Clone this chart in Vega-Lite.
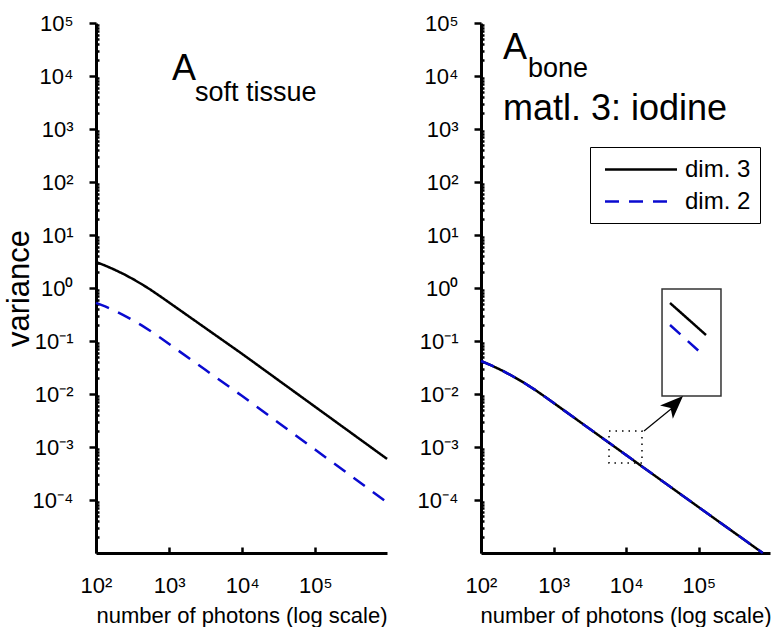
{
  "$schema": "https://vega.github.io/schema/vega-lite/v6.json",
  "background": "white",
  "padding": {"left": 3, "top": 12, "right": 5, "bottom": 3},
  "spacing": 94,
  "bounds": "flush",
  "config": {
    "font": "Liberation Sans",
    "view": {"stroke": null},
    "axis": {
      "domainColor": "black", "domainWidth": 3, "tickColor": "black", "tickWidth": 2.5,
      "labelColor": "black", "titleColor": "black", "labelFontSize": 22, "titleFontSize": 22,
      "titleFontWeight": "normal", "grid": false, "labelFlush": false, "labelOverlap": false
    },
    "text": {"color": "black"}
  },
  "datasets": {
    "soft": [
      {"series": "dim. 3", "n": 100, "v": 3.0903},
      {"series": "dim. 3", "n": 133.35, "v": 2.6503},
      {"series": "dim. 3", "n": 177.83, "v": 2.2294},
      {"series": "dim. 3", "n": 237.14, "v": 1.8395},
      {"series": "dim. 3", "n": 316.23, "v": 1.4891},
      {"series": "dim. 3", "n": 421.70, "v": 1.1819},
      {"series": "dim. 3", "n": 562.34, "v": 0.92024},
      {"series": "dim. 3", "n": 749.89, "v": 0.70293},
      {"series": "dim. 3", "n": 1000, "v": 0.53163},
      {"series": "dim. 3", "n": 3162.3, "v": 0.17400},
      {"series": "dim. 3", "n": 10000, "v": 0.056973},
      {"series": "dim. 3", "n": 31623, "v": 0.018016},
      {"series": "dim. 3", "n": 100000, "v": 0.0056973},
      {"series": "dim. 3", "n": 316228, "v": 0.0018016},
      {"series": "dim. 3", "n": 954993, "v": 0.00059660},
      {"series": "dim. 2", "n": 100, "v": 0.52481},
      {"series": "dim. 2", "n": 133.35, "v": 0.44843},
      {"series": "dim. 2", "n": 177.83, "v": 0.37593},
      {"series": "dim. 2", "n": 237.14, "v": 0.30903},
      {"series": "dim. 2", "n": 316.23, "v": 0.24926},
      {"series": "dim. 2", "n": 421.70, "v": 0.19711},
      {"series": "dim. 2", "n": 562.34, "v": 0.15295},
      {"series": "dim. 2", "n": 749.89, "v": 0.11639},
      {"series": "dim. 2", "n": 1000, "v": 0.087700},
      {"series": "dim. 2", "n": 3162.3, "v": 0.028292},
      {"series": "dim. 2", "n": 10000, "v": 0.0091302},
      {"series": "dim. 2", "n": 31623, "v": 0.0028449},
      {"series": "dim. 2", "n": 100000, "v": 0.00088695},
      {"series": "dim. 2", "n": 316228, "v": 0.00027634},
      {"series": "dim. 2", "n": 954993, "v": 0.000090290}
    ],
    "bone": [
      {"series": "dim. 3", "n": 100, "v": 0.041976},
      {"series": "dim. 3", "n": 141.25, "v": 0.034277},
      {"series": "dim. 3", "n": 199.53, "v": 0.027290},
      {"series": "dim. 3", "n": 281.84, "v": 0.021184},
      {"series": "dim. 3", "n": 398.11, "v": 0.016032},
      {"series": "dim. 3", "n": 562.34, "v": 0.011830},
      {"series": "dim. 3", "n": 794.33, "v": 0.0085114},
      {"series": "dim. 3", "n": 2511.9, "v": 0.0027384},
      {"series": "dim. 3", "n": 10000, "v": 0.00070222},
      {"series": "dim. 3", "n": 31623, "v": 0.00022594},
      {"series": "dim. 3", "n": 100000, "v": 0.000072778},
      {"series": "dim. 3", "n": 316228, "v": 0.000023550},
      {"series": "dim. 3", "n": 758578, "v": 0.00001},
      {"series": "dim. 2", "n": 100, "v": 0.041976},
      {"series": "dim. 2", "n": 141.25, "v": 0.034277},
      {"series": "dim. 2", "n": 199.53, "v": 0.027290},
      {"series": "dim. 2", "n": 281.84, "v": 0.021184},
      {"series": "dim. 2", "n": 398.11, "v": 0.016032},
      {"series": "dim. 2", "n": 562.34, "v": 0.011830},
      {"series": "dim. 2", "n": 794.33, "v": 0.0085114},
      {"series": "dim. 2", "n": 2511.9, "v": 0.0027384},
      {"series": "dim. 2", "n": 10000, "v": 0.00070222},
      {"series": "dim. 2", "n": 31623, "v": 0.00022594},
      {"series": "dim. 2", "n": 100000, "v": 0.000072778},
      {"series": "dim. 2", "n": 316228, "v": 0.000023550},
      {"series": "dim. 2", "n": 758578, "v": 0.00001}
    ],
    "softText": [
      {"label": "A", "role": "main", "n": 1096, "v": 8414},
      {"label": "soft tissue", "role": "sub", "n": 2259, "v": 3373}
    ],
    "boneText": [
      {"label": "A", "role": "main", "n": 201, "v": 20940},
      {"label": "bone", "role": "sub", "n": 443.6, "v": 9572},
      {"label": "matl. 3: iodine", "role": "main", "n": 201, "v": 1479}
    ],
    "boxes": [
      {"box": "zoom", "n1": 5794, "n2": 16480, "v1": 0.000499, "v2": 0.002004},
      {"box": "inset", "n1": 31117, "n2": 201837, "v1": 0.009164, "v2": 0.957}
    ],
    "insetLines": [
      {"series": "dim. 3", "n1": 40090, "v1": 0.5212, "n2": 125600, "v2": 0.1297},
      {"series": "dim. 2", "n1": 40090, "v1": 0.2004, "n2": 107150, "v2": 0.05943}
    ],
    "arrow": [
      {"n1": 17580, "v1": 0.002004, "n2": 41400, "v2": 0.005212, "tipN": 60530, "tipV": 0.009164}
    ]
  },
  "resolve": {"scale": {"color": "independent", "strokeDash": "independent"}},
  "hconcat": [
    {
      "width": 291,
      "height": 530,
      "encoding": {
        "x": {"field": "n", "type": "quantitative", "scale": {"type": "log", "domain": [100, 954993], "nice": false},
          "axis": {"values": [100, 1000, 10000, 100000], "labelExpr": "'10' + ['²','³','⁴','⁵'][round(log(datum.value)/LN10)-2]",
            "tickSize": {"condition": {"test": "true", "value": -6}, "value": -6},
            "labelPadding": 28, "title": "number of photons (log scale)", "titlePadding": 9}},
        "y": {"field": "v", "type": "quantitative", "scale": {"type": "log", "domain": [0.00001, 100000], "nice": false},
          "axis": {
            "values": [0.0001, 0.001, 0.01, 0.1, 1, 10, 100, 1000, 10000, 100000,
              2e-5, 3e-5, 4e-5, 5e-5, 6e-5, 7e-5, 8e-5, 9e-5,
              2e-4, 3e-4, 4e-4, 5e-4, 6e-4, 7e-4, 8e-4, 9e-4,
              0.002, 0.003, 0.004, 0.005, 0.006, 0.007, 0.008, 0.009,
              0.02, 0.03, 0.04, 0.05, 0.06, 0.07, 0.08, 0.09,
              0.2, 0.3, 0.4, 0.5, 0.6, 0.7, 0.8, 0.9,
              2, 3, 4, 5, 6, 7, 8, 9,
              20, 30, 40, 50, 60, 70, 80, 90,
              200, 300, 400, 500, 600, 700, 800, 900,
              2000, 3000, 4000, 5000, 6000, 7000, 8000, 9000,
              20000, 30000, 40000, 50000, 60000, 70000, 80000, 90000],
            "labelExpr": "abs(log(datum.value)/LN10 - round(log(datum.value)/LN10)) < 0.01 ? '10' + ['⁻⁵','⁻⁴','⁻³','⁻²','⁻¹','⁰','¹','²','³','⁴','⁵','⁶'][round(log(datum.value)/LN10)+5] : ''",
            "tickSize": {"condition": {"test": "abs(log(datum.value)/LN10 - round(log(datum.value)/LN10)) < 0.01", "value": 7}, "value": -3},
            "labelPadding": 16,
            "title": "variance", "titleFontSize": 31, "titleX": -68, "titleBaseline": "alphabetic"
          }}
      },
      "layer": [
        {
          "data": {"name": "soft"},
          "transform": [{"filter": "datum.series === 'dim. 3'"}],
          "mark": {"type": "line", "strokeWidth": 2.5},
          "encoding": {
            "color": {"field": "series", "type": "nominal", "scale": {"domain": ["dim. 3", "dim. 2"], "range": ["black", "#0a0ad0"]}, "legend": null},
            "strokeDash": {"field": "series", "type": "nominal", "scale": {"domain": ["dim. 3", "dim. 2"], "range": [[1, 0], [14, 10]]}, "legend": null}
          }
        },
        {
          "data": {"name": "soft"},
          "transform": [{"filter": "datum.series === 'dim. 2'"}],
          "mark": {"type": "line", "strokeWidth": 2.5},
          "encoding": {
            "color": {"field": "series", "type": "nominal", "legend": null},
            "strokeDash": {"field": "series", "type": "nominal", "legend": null}
          }
        },
        {
          "data": {"name": "softText"},
          "transform": [{"filter": "datum.role === 'main'"}],
          "mark": {"type": "text", "align": "left", "baseline": "alphabetic", "fontSize": 36},
          "encoding": {"text": {"field": "label"}}
        },
        {
          "data": {"name": "softText"},
          "transform": [{"filter": "datum.role === 'sub'"}],
          "mark": {"type": "text", "align": "left", "baseline": "alphabetic", "fontSize": 27},
          "encoding": {"text": {"field": "label"}}
        }
      ]
    },
    {
      "width": 289,
      "height": 530,
      "layer": [
        {
          "data": {"name": "bone"},
          "transform": [{"filter": "datum.series === 'dim. 3'"}],
          "mark": {"type": "line", "strokeWidth": 2.5},
          "encoding": {
            "x": {"field": "n", "type": "quantitative", "scale": {"type": "log", "domain": [100, 954993], "nice": false},
              "axis": {"values": [100, 1000, 10000, 100000], "labelExpr": "'10' + ['²','³','⁴','⁵'][round(log(datum.value)/LN10)-2]",
                "tickSize": {"condition": {"test": "true", "value": -6}, "value": -6},
                "labelPadding": 28, "title": "number of photons (log scale)", "titlePadding": 9}},
            "y": {"field": "v", "type": "quantitative", "scale": {"type": "log", "domain": [0.00001, 100000], "nice": false},
              "axis": {
                "values": [0.0001, 0.001, 0.01, 0.1, 1, 10, 100, 1000, 10000, 100000,
                  2e-5, 3e-5, 4e-5, 5e-5, 6e-5, 7e-5, 8e-5, 9e-5,
                  2e-4, 3e-4, 4e-4, 5e-4, 6e-4, 7e-4, 8e-4, 9e-4,
                  0.002, 0.003, 0.004, 0.005, 0.006, 0.007, 0.008, 0.009,
                  0.02, 0.03, 0.04, 0.05, 0.06, 0.07, 0.08, 0.09,
                  0.2, 0.3, 0.4, 0.5, 0.6, 0.7, 0.8, 0.9,
                  2, 3, 4, 5, 6, 7, 8, 9,
                  20, 30, 40, 50, 60, 70, 80, 90,
                  200, 300, 400, 500, 600, 700, 800, 900,
                  2000, 3000, 4000, 5000, 6000, 7000, 8000, 9000,
                  20000, 30000, 40000, 50000, 60000, 70000, 80000, 90000],
                "labelExpr": "abs(log(datum.value)/LN10 - round(log(datum.value)/LN10)) < 0.01 ? '10' + ['⁻⁵','⁻⁴','⁻³','⁻²','⁻¹','⁰','¹','²','³','⁴','⁵','⁶'][round(log(datum.value)/LN10)+5] : ''",
                "tickSize": {"condition": {"test": "abs(log(datum.value)/LN10 - round(log(datum.value)/LN10)) < 0.01", "value": 7}, "value": -3},
                "labelPadding": 16,
                "title": null
              }},
            "color": {"field": "series", "type": "nominal", "scale": {"domain": ["dim. 3", "dim. 2"], "range": ["black", "#0a0ad0"]},
              "legend": {"orient": "none", "legendX": 109, "legendY": 124, "title": null, "strokeColor": "black", "fillColor": "white", "padding": 9, "symbolType": "M-3,0H3", "symbolSize": 576, "symbolStrokeWidth": 2.5, "labelFontSize": 24, "labelColor": "black", "rowPadding": 6, "labelOffset": 30.5, "symbolOffset": 28.5}},
            "strokeDash": {"field": "series", "type": "nominal", "scale": {"domain": ["dim. 3", "dim. 2"], "range": [[1, 0], [14, 10]]},
              "legend": {"orient": "none", "legendX": 109, "legendY": 124, "title": null, "strokeColor": "black", "fillColor": "white", "padding": 9, "symbolType": "M-3,0H3", "symbolSize": 576, "symbolStrokeWidth": 2.5, "labelFontSize": 24, "labelColor": "black", "rowPadding": 6, "labelOffset": 30.5, "symbolOffset": 28.5}}
          }
        },
        {
          "data": {"name": "bone"},
          "transform": [{"filter": "datum.series === 'dim. 2'"}],
          "mark": {"type": "line", "strokeWidth": 2.5},
          "encoding": {
            "x": {"field": "n", "type": "quantitative"},
            "y": {"field": "v", "type": "quantitative"},
            "color": {"field": "series", "type": "nominal"},
            "strokeDash": {"field": "series", "type": "nominal"}
          }
        },
        {
          "data": {"name": "boxes"},
          "transform": [{"filter": "datum.box === 'zoom'"}],
          "mark": {"type": "rect", "fill": null, "filled": false, "stroke": "black", "strokeWidth": 1.5, "strokeDash": [1.5, 5]},
          "encoding": {
            "x": {"field": "n1", "type": "quantitative"}, "x2": {"field": "n2"},
            "y": {"field": "v1", "type": "quantitative"}, "y2": {"field": "v2"}
          }
        },
        {
          "data": {"name": "boxes"},
          "transform": [{"filter": "datum.box === 'inset'"}],
          "mark": {"type": "rect", "fill": "white", "stroke": "#333333", "strokeWidth": 1.5},
          "encoding": {
            "x": {"field": "n1", "type": "quantitative"}, "x2": {"field": "n2"},
            "y": {"field": "v1", "type": "quantitative"}, "y2": {"field": "v2"}
          }
        },
        {
          "data": {"name": "insetLines"},
          "mark": {"type": "rule", "strokeWidth": 2.5},
          "encoding": {
            "x": {"field": "n1", "type": "quantitative"}, "x2": {"field": "n2"},
            "y": {"field": "v1", "type": "quantitative"}, "y2": {"field": "v2"},
            "color": {"field": "series", "type": "nominal"},
            "strokeDash": {"field": "series", "type": "nominal"}
          }
        },
        {
          "data": {"name": "arrow"},
          "mark": {"type": "rule", "strokeWidth": 1.2, "color": "black"},
          "encoding": {
            "x": {"field": "n1", "type": "quantitative"}, "x2": {"field": "n2"},
            "y": {"field": "v1", "type": "quantitative"}, "y2": {"field": "v2"}
          }
        },
        {
          "data": {"name": "arrow"},
          "mark": {"type": "point", "shape": "M0,0L-0.64,1.6L0,1.2L0.64,1.6Z", "filled": true, "fill": "black", "stroke": null, "size": 830, "angle": 46, "opacity": 1},
          "encoding": {
            "x": {"field": "tipN", "type": "quantitative"},
            "y": {"field": "tipV", "type": "quantitative"}
          }
        },
        {
          "data": {"name": "boneText"},
          "transform": [{"filter": "datum.role === 'main'"}],
          "mark": {"type": "text", "align": "left", "baseline": "alphabetic", "fontSize": 36},
          "encoding": {
            "x": {"field": "n", "type": "quantitative"},
            "y": {"field": "v", "type": "quantitative"},
            "text": {"field": "label"}
          }
        },
        {
          "data": {"name": "boneText"},
          "transform": [{"filter": "datum.role === 'sub'"}],
          "mark": {"type": "text", "align": "left", "baseline": "alphabetic", "fontSize": 27},
          "encoding": {
            "x": {"field": "n", "type": "quantitative"},
            "y": {"field": "v", "type": "quantitative"},
            "text": {"field": "label"}
          }
        }
      ]
    }
  ]
}
